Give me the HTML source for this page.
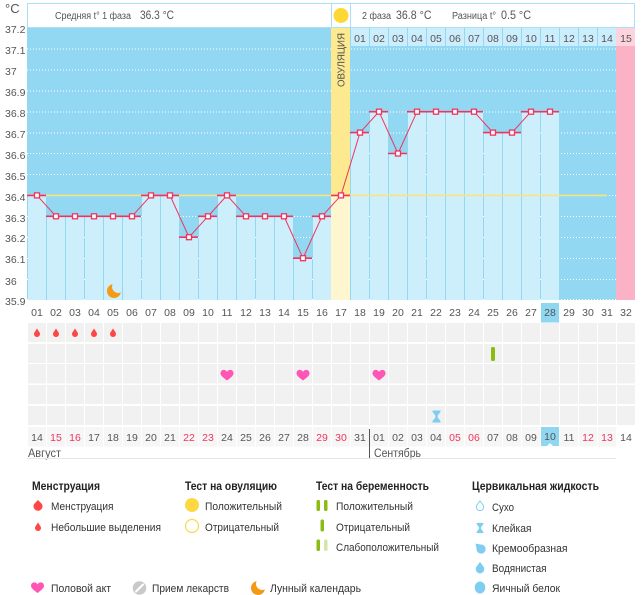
<!DOCTYPE html>
<html><head><meta charset="utf-8"><style>
html,body{margin:0;padding:0;background:#fff;}
svg{display:block;font-family:"Liberation Sans","DejaVu Sans",sans-serif;}
</style></head><body>
<svg width="644" height="595" viewBox="0 0 644 595" xmlns="http://www.w3.org/2000/svg">
<defs>
<pattern id="cells" patternUnits="userSpaceOnUse" x="27" y="0" width="19" height="595"><rect x="1" y="0" width="18" height="595" fill="#f1f1f1"/></pattern>
<pattern id="cells2" patternUnits="userSpaceOnUse" x="27" y="0" width="19" height="595"><rect x="1" y="0" width="18" height="595" fill="#f6f6f6"/></pattern>
<pattern id="hcells" patternUnits="userSpaceOnUse" x="27" y="0" width="19" height="595"><rect x="1" y="0" width="18" height="595" fill="#ccedfb"/></pattern>
<path id="drop" d="M0,-5 L2.6,-1 A3,3 0 1 1 -2.6,-1 Z"/>
<path id="heart" d="M0,5 C-3,2.6 -6.5,0.4 -6.5,-2.1 C-6.5,-4.3 -4.9,-5.6 -3.3,-5.6 C-1.9,-5.6 -0.7,-4.8 0,-3.6 C0.7,-4.8 1.9,-5.6 3.3,-5.6 C4.9,-5.6 6.5,-4.3 6.5,-2.1 C6.5,0.4 3,2.6 0,5 Z"/>
<path id="hg" d="M-4,-6 H4 V-4.6 L1.2,-1 V1 L4,4.6 V6 H-4 V4.6 L-1.2,1 V-1 L-4,-4.6 Z"/>
<mask id="moonm"><rect x="-10" y="-10" width="20" height="20" fill="#fff"/><circle cx="4.2" cy="-4.2" r="6.2" fill="#000"/></mask>
</defs>

<!-- header -->
<text x="5" y="13" font-size="13" fill="#555">°C</text>
<rect x="27.5" y="3.5" width="607" height="24" fill="#fff" stroke="#a9e0f4" stroke-width="1"/>
<line x1="331.5" y1="3.5" x2="331.5" y2="27.5" stroke="#a9e0f4"/>
<line x1="350.5" y1="3.5" x2="350.5" y2="27.5" stroke="#a9e0f4"/>
<circle cx="341" cy="15.5" r="7.5" fill="#fdd835"/>
<text x="55" y="19" font-size="10" fill="#555" textLength="76" lengthAdjust="spacingAndGlyphs">Средняя t° 1 фаза</text>
<text x="140" y="19" font-size="11.5" fill="#555" textLength="34" lengthAdjust="spacingAndGlyphs">36.3 °C</text>
<text x="362" y="19" font-size="10" fill="#555" textLength="29" lengthAdjust="spacingAndGlyphs">2 фаза</text>
<text x="396" y="19" font-size="11.5" fill="#555" textLength="35.5" lengthAdjust="spacingAndGlyphs">36.8 °C</text>
<text x="452" y="19" font-size="10" fill="#555" textLength="44" lengthAdjust="spacingAndGlyphs">Разница t°</text>
<text x="501" y="19" font-size="11.5" fill="#555" textLength="30" lengthAdjust="spacingAndGlyphs">0.5 °C</text>

<!-- chart background -->
<rect x="27" y="28" width="589" height="272" fill="#92d8f2"/>
<!-- grid -->
<g stroke="#fff" stroke-width="1" stroke-dasharray="1 2">
<line x1="27" y1="49" x2="616" y2="49"/>
<line x1="27" y1="70" x2="616" y2="70"/>
<line x1="27" y1="91" x2="616" y2="91"/>
<line x1="27" y1="112" x2="616" y2="112"/>
<line x1="27" y1="133" x2="616" y2="133"/>
<line x1="27" y1="153.5" x2="616" y2="153.5"/>
<line x1="27" y1="174.5" x2="616" y2="174.5"/>
<line x1="27" y1="195.5" x2="616" y2="195.5"/>
<line x1="27" y1="216.5" x2="616" y2="216.5"/>
<line x1="27" y1="237.5" x2="616" y2="237.5"/>
<line x1="27" y1="258.5" x2="616" y2="258.5"/>
<line x1="27" y1="279.5" x2="616" y2="279.5"/>
<line x1="27" y1="299.5" x2="616" y2="299.5"/>
</g>
<!-- phase 2 header cells -->
<rect x="350" y="28" width="266" height="18" fill="url(#hcells)"/>
<rect x="616" y="28" width="19" height="18" fill="#fdd3de"/>
<rect x="616" y="46" width="19" height="254" fill="#fbb1c6"/>
<g font-size="10.5" fill="#555" text-anchor="middle">
<text x="360" y="42">01</text><text x="379" y="42">02</text><text x="398" y="42">03</text><text x="417" y="42">04</text><text x="436" y="42">05</text><text x="455" y="42">06</text><text x="474" y="42">07</text><text x="493" y="42">08</text><text x="512" y="42">09</text><text x="531" y="42">10</text><text x="550" y="42">11</text><text x="569" y="42">12</text><text x="588" y="42">13</text><text x="607" y="42">14</text><text x="626" y="42">15</text>
</g>
<!-- ovulation column -->
<rect x="331" y="28" width="19" height="167.4" fill="#fde98f"/>
<rect x="331" y="195.4" width="19" height="104.6" fill="#fef6cf"/>
<text transform="translate(344.5,60) rotate(-90)" font-size="10" fill="#555" text-anchor="middle" textLength="54" lengthAdjust="spacingAndGlyphs">ОВУЛЯЦИЯ</text>

<!-- bars -->
<g fill="#cdeefb">
<rect x="28" y="195.4" width="18" height="104.6"/>
<rect x="47" y="216.3" width="18" height="83.7"/>
<rect x="66" y="216.3" width="18" height="83.7"/>
<rect x="85" y="216.3" width="18" height="83.7"/>
<rect x="104" y="216.3" width="18" height="83.7"/>
<rect x="123" y="216.3" width="18" height="83.7"/>
<rect x="142" y="195.4" width="18" height="104.6"/>
<rect x="161" y="195.4" width="18" height="104.6"/>
<rect x="180" y="237.2" width="18" height="62.8"/>
<rect x="199" y="216.3" width="18" height="83.7"/>
<rect x="218" y="195.4" width="18" height="104.6"/>
<rect x="237" y="216.3" width="18" height="83.7"/>
<rect x="256" y="216.3" width="18" height="83.7"/>
<rect x="275" y="216.3" width="18" height="83.7"/>
<rect x="294" y="258.2" width="18" height="41.8"/>
<rect x="313" y="216.3" width="18" height="83.7"/>
<rect x="351" y="132.6" width="18" height="167.4"/>
<rect x="370" y="111.7" width="18" height="188.3"/>
<rect x="389" y="153.5" width="18" height="146.5"/>
<rect x="408" y="111.7" width="18" height="188.3"/>
<rect x="427" y="111.7" width="18" height="188.3"/>
<rect x="446" y="111.7" width="18" height="188.3"/>
<rect x="465" y="111.7" width="18" height="188.3"/>
<rect x="484" y="132.6" width="18" height="167.4"/>
<rect x="503" y="132.6" width="18" height="167.4"/>
<rect x="522" y="111.7" width="18" height="188.3"/>
<rect x="541" y="111.7" width="18" height="188.3"/>
</g>

<!-- average line -->
<line x1="27" y1="195.4" x2="607" y2="195.4" stroke="#f7e47e" stroke-width="1.6"/>

<!-- red segments -->
<g stroke="#f0345e" stroke-width="1.6">
<line x1="27" y1="195.4" x2="46" y2="195.4"/>
<line x1="46" y1="216.3" x2="141" y2="216.3"/>
<line x1="141" y1="195.4" x2="179" y2="195.4"/>
<line x1="179" y1="237.2" x2="198" y2="237.2"/>
<line x1="198" y1="216.3" x2="217" y2="216.3"/>
<line x1="217" y1="195.4" x2="236" y2="195.4"/>
<line x1="236" y1="216.3" x2="293" y2="216.3"/>
<line x1="293" y1="258.2" x2="312" y2="258.2"/>
<line x1="312" y1="216.3" x2="331" y2="216.3"/>
<line x1="331" y1="195.4" x2="350" y2="195.4"/>
<line x1="350" y1="132.6" x2="369" y2="132.6"/>
<line x1="369" y1="111.7" x2="388" y2="111.7"/>
<line x1="388" y1="153.5" x2="407" y2="153.5"/>
<line x1="407" y1="111.7" x2="483" y2="111.7"/>
<line x1="483" y1="132.6" x2="521" y2="132.6"/>
<line x1="521" y1="111.7" x2="559" y2="111.7"/>
</g>
<polyline fill="none" stroke="#f0345e" stroke-width="1" points="37,195.4 56,216.3 75,216.3 94,216.3 113,216.3 132,216.3 151,195.4 170,195.4 189,237.2 208,216.3 227,195.4 246,216.3 265,216.3 284,216.3 303,258.2 322,216.3 341,195.4 360,132.6 379,111.7 398,153.5 417,111.7 436,111.7 455,111.7 474,111.7 493,132.6 512,132.6 531,111.7 550,111.7"/>
<g fill="#fff" stroke="#f0345e" stroke-width="1.3">
<rect x="34.5" y="192.9" width="5" height="5"/>
<rect x="53.5" y="213.8" width="5" height="5"/>
<rect x="72.5" y="213.8" width="5" height="5"/>
<rect x="91.5" y="213.8" width="5" height="5"/>
<rect x="110.5" y="213.8" width="5" height="5"/>
<rect x="129.5" y="213.8" width="5" height="5"/>
<rect x="148.5" y="192.9" width="5" height="5"/>
<rect x="167.5" y="192.9" width="5" height="5"/>
<rect x="186.5" y="234.7" width="5" height="5"/>
<rect x="205.5" y="213.8" width="5" height="5"/>
<rect x="224.5" y="192.9" width="5" height="5"/>
<rect x="243.5" y="213.8" width="5" height="5"/>
<rect x="262.5" y="213.8" width="5" height="5"/>
<rect x="281.5" y="213.8" width="5" height="5"/>
<rect x="300.5" y="255.7" width="5" height="5"/>
<rect x="319.5" y="213.8" width="5" height="5"/>
<rect x="338.5" y="192.9" width="5" height="5"/>
<rect x="357.5" y="130.1" width="5" height="5"/>
<rect x="376.5" y="109.2" width="5" height="5"/>
<rect x="395.5" y="151" width="5" height="5"/>
<rect x="414.5" y="109.2" width="5" height="5"/>
<rect x="433.5" y="109.2" width="5" height="5"/>
<rect x="452.5" y="109.2" width="5" height="5"/>
<rect x="471.5" y="109.2" width="5" height="5"/>
<rect x="490.5" y="130.1" width="5" height="5"/>
<rect x="509.5" y="130.1" width="5" height="5"/>
<rect x="528.5" y="109.2" width="5" height="5"/>
<rect x="547.5" y="109.2" width="5" height="5"/>
</g>

<!-- moon in chart -->
<g transform="translate(114,291)"><circle r="7" fill="#f39a16" mask="url(#moonm)"/></g>

<!-- y labels -->
<g font-size="10.5" fill="#555">
<text x="5" y="33">37.2</text><text x="5" y="54">37.1</text><text x="5" y="75">37</text><text x="5" y="96">36.9</text><text x="5" y="117">36.8</text><text x="5" y="138">36.7</text><text x="5" y="159">36.6</text><text x="5" y="180">36.5</text><text x="5" y="201">36.4</text><text x="5" y="222">36.3</text><text x="5" y="242">36.2</text><text x="5" y="263">36.1</text><text x="5" y="285">36</text><text x="5" y="305">35.9</text>
</g>

<!-- x labels -->
<rect x="541" y="303" width="18" height="19.5" fill="#8fd6f1"/>
<g font-size="10.5" fill="#555" text-anchor="middle">
<text x="37" y="316">01</text><text x="56" y="316">02</text><text x="75" y="316">03</text><text x="94" y="316">04</text><text x="113" y="316">05</text><text x="132" y="316">06</text><text x="151" y="316">07</text><text x="170" y="316">08</text><text x="189" y="316">09</text><text x="208" y="316">10</text><text x="227" y="316">11</text><text x="246" y="316">12</text><text x="265" y="316">13</text><text x="284" y="316">14</text><text x="303" y="316">15</text><text x="322" y="316">16</text><text x="341" y="316">17</text><text x="360" y="316">18</text><text x="379" y="316">19</text><text x="398" y="316">20</text><text x="417" y="316">21</text><text x="436" y="316">22</text><text x="455" y="316">23</text><text x="474" y="316">24</text><text x="493" y="316">25</text><text x="512" y="316">26</text><text x="531" y="316">27</text><text x="550" y="316">28</text><text x="569" y="316">29</text><text x="588" y="316">30</text><text x="607" y="316">31</text><text x="626" y="316">32</text>
</g>

<!-- symbol rows -->
<rect x="27" y="323" width="608" height="19" fill="url(#cells)"/>
<rect x="27" y="344" width="608" height="19" fill="url(#cells)"/>
<rect x="27" y="364" width="608" height="19.5" fill="url(#cells)"/>
<rect x="27" y="385" width="608" height="19" fill="url(#cells)"/>
<rect x="27" y="406" width="608" height="19" fill="url(#cells)"/>
<rect x="27" y="427" width="589" height="19.5" fill="url(#cells2)"/>

<g fill="#ff4646">
<use href="#drop" x="37" y="333.5"/><use href="#drop" x="56" y="333.5"/><use href="#drop" x="75" y="333.5"/><use href="#drop" x="94" y="333.5"/><use href="#drop" x="113" y="333.5"/>
</g>
<rect x="491" y="347" width="4" height="14" rx="1.5" fill="#8cbb14"/>
<g fill="#ff55b4">
<use href="#heart" x="227" y="375.5"/><use href="#heart" x="303" y="375.5"/><use href="#heart" x="379" y="375.5"/>
</g>
<use href="#hg" x="436.5" y="416.5" fill="#7fcdf0"/>

<!-- date row -->
<rect x="541" y="427" width="18" height="19" fill="#8fd6f1"/>
<path d="M547,446 L550,443 L553,446 Z" fill="#fff"/>
<g font-size="10.5" fill="#555" text-anchor="middle">
<text x="37" y="441">14</text><text x="56" y="441" fill="#f0345e">15</text><text x="75" y="441" fill="#f0345e">16</text><text x="94" y="441">17</text><text x="113" y="441">18</text><text x="132" y="441">19</text><text x="151" y="441">20</text><text x="170" y="441">21</text><text x="189" y="441" fill="#f0345e">22</text><text x="208" y="441" fill="#f0345e">23</text><text x="227" y="441">24</text><text x="246" y="441">25</text><text x="265" y="441">26</text><text x="284" y="441">27</text><text x="303" y="441">28</text><text x="322" y="441" fill="#f0345e">29</text><text x="341" y="441" fill="#f0345e">30</text><text x="360" y="441">31</text><text x="379" y="441">01</text><text x="398" y="441">02</text><text x="417" y="441">03</text><text x="436" y="441">04</text><text x="455" y="441" fill="#f0345e">05</text><text x="474" y="441" fill="#f0345e">06</text><text x="493" y="441">07</text><text x="512" y="441">08</text><text x="531" y="441">09</text><text x="550" y="440">10</text><text x="569" y="441">11</text><text x="588" y="441" fill="#f0345e">12</text><text x="607" y="441" fill="#f0345e">13</text><text x="626" y="441">14</text>
</g>
<line x1="369.5" y1="429" x2="369.5" y2="458" stroke="#555" stroke-width="1"/>
<text x="28" y="457" font-size="11.5" fill="#555" textLength="33" lengthAdjust="spacingAndGlyphs">Август</text>
<text x="374" y="457" font-size="11.5" fill="#555" textLength="47" lengthAdjust="spacingAndGlyphs">Сентябрь</text>
<line x1="27" y1="458.5" x2="616" y2="458.5" stroke="#e6e6e6" stroke-width="1"/>

<!-- legend -->
<g font-size="11.5" font-weight="bold" fill="#222">
<text x="32" y="490" textLength="68" lengthAdjust="spacingAndGlyphs">Менструация</text>
<text x="185" y="490" textLength="92" lengthAdjust="spacingAndGlyphs">Тест на овуляцию</text>
<text x="316" y="490" textLength="113" lengthAdjust="spacingAndGlyphs">Тест на беременность</text>
<text x="472" y="490" textLength="127" lengthAdjust="spacingAndGlyphs">Цервикальная жидкость</text>
</g>
<g font-size="11" fill="#333">
<text x="51" y="510" textLength="62.5" lengthAdjust="spacingAndGlyphs">Менструация</text>
<text x="51" y="531" textLength="110" lengthAdjust="spacingAndGlyphs">Небольшие выделения</text>
<text x="205" y="510" textLength="77" lengthAdjust="spacingAndGlyphs">Положительный</text>
<text x="205" y="531" textLength="74" lengthAdjust="spacingAndGlyphs">Отрицательный</text>
<text x="336" y="510" textLength="77" lengthAdjust="spacingAndGlyphs">Положительный</text>
<text x="336" y="531" textLength="74" lengthAdjust="spacingAndGlyphs">Отрицательный</text>
<text x="336" y="551" textLength="103" lengthAdjust="spacingAndGlyphs">Слабоположительный</text>
<text x="492" y="511" textLength="22" lengthAdjust="spacingAndGlyphs">Сухо</text>
<text x="492" y="532" textLength="39.5" lengthAdjust="spacingAndGlyphs">Клейкая</text>
<text x="492" y="552" textLength="75.5" lengthAdjust="spacingAndGlyphs">Кремообразная</text>
<text x="492" y="572" textLength="54.5" lengthAdjust="spacingAndGlyphs">Водянистая</text>
<text x="492" y="592" textLength="68" lengthAdjust="spacingAndGlyphs">Яичный белок</text>
<text x="51" y="592" textLength="60" lengthAdjust="spacingAndGlyphs">Половой акт</text>
<text x="152" y="592" textLength="77" lengthAdjust="spacingAndGlyphs">Прием лекарств</text>
<text x="270" y="592" textLength="91" lengthAdjust="spacingAndGlyphs">Лунный календарь</text>
</g>
<!-- legend icons -->
<path d="M38,500 L41.9,504 A4.5,4.5 0 1 1 34.1,504 Z" fill="#ff4646"/>
<use href="#drop" x="38" y="527.5" fill="#ff4646"/>
<circle cx="192" cy="505" r="7" fill="#fdd843"/>
<circle cx="192" cy="526" r="6.5" fill="#fff" stroke="#fdd843" stroke-width="1.2"/>
<g fill="#8cbb14">
<rect x="316.5" y="500" width="3.5" height="11" rx="1.5"/>
<rect x="324" y="500" width="3.5" height="11" rx="1.5"/>
<rect x="320.5" y="519.5" width="3.5" height="12" rx="1.5"/>
<rect x="316.5" y="539.5" width="3.5" height="11.5" rx="1.5"/>
</g>
<rect x="324" y="539.5" width="3.5" height="11.5" rx="1.5" fill="#d3e6a6"/>
<path d="M480,501 L483,505 A3.6,3.6 0 1 1 477,505 Z" fill="#fff" stroke="#7fcdf0" stroke-width="1"/>
<g transform="translate(480,528) scale(0.85)"><use href="#hg" fill="#7fcdf0"/></g>
<path d="M475.5,543.5 L480.5,544.5 A4.6,4.6 0 1 1 476.5,548.5 Z" fill="#7fcdf0"/>
<path d="M480,562 L483.6,566.8 A4.3,4.3 0 1 1 476.4,566.8 Z" fill="#7fcdf0"/>
<ellipse cx="480" cy="587.5" rx="5.3" ry="6" fill="#7fcdf0"/>
<use href="#heart" x="37.5" y="588" fill="#ff55b4"/>
<circle cx="139.5" cy="588" r="6.8" fill="#c9c9c9"/>
<line x1="136" y1="591.5" x2="143" y2="584.5" stroke="#fff" stroke-width="2" stroke-linecap="round"/>
<g transform="translate(258,588)"><circle r="7" fill="#f39a16" mask="url(#moonm)"/></g>
</svg>
</body></html>
